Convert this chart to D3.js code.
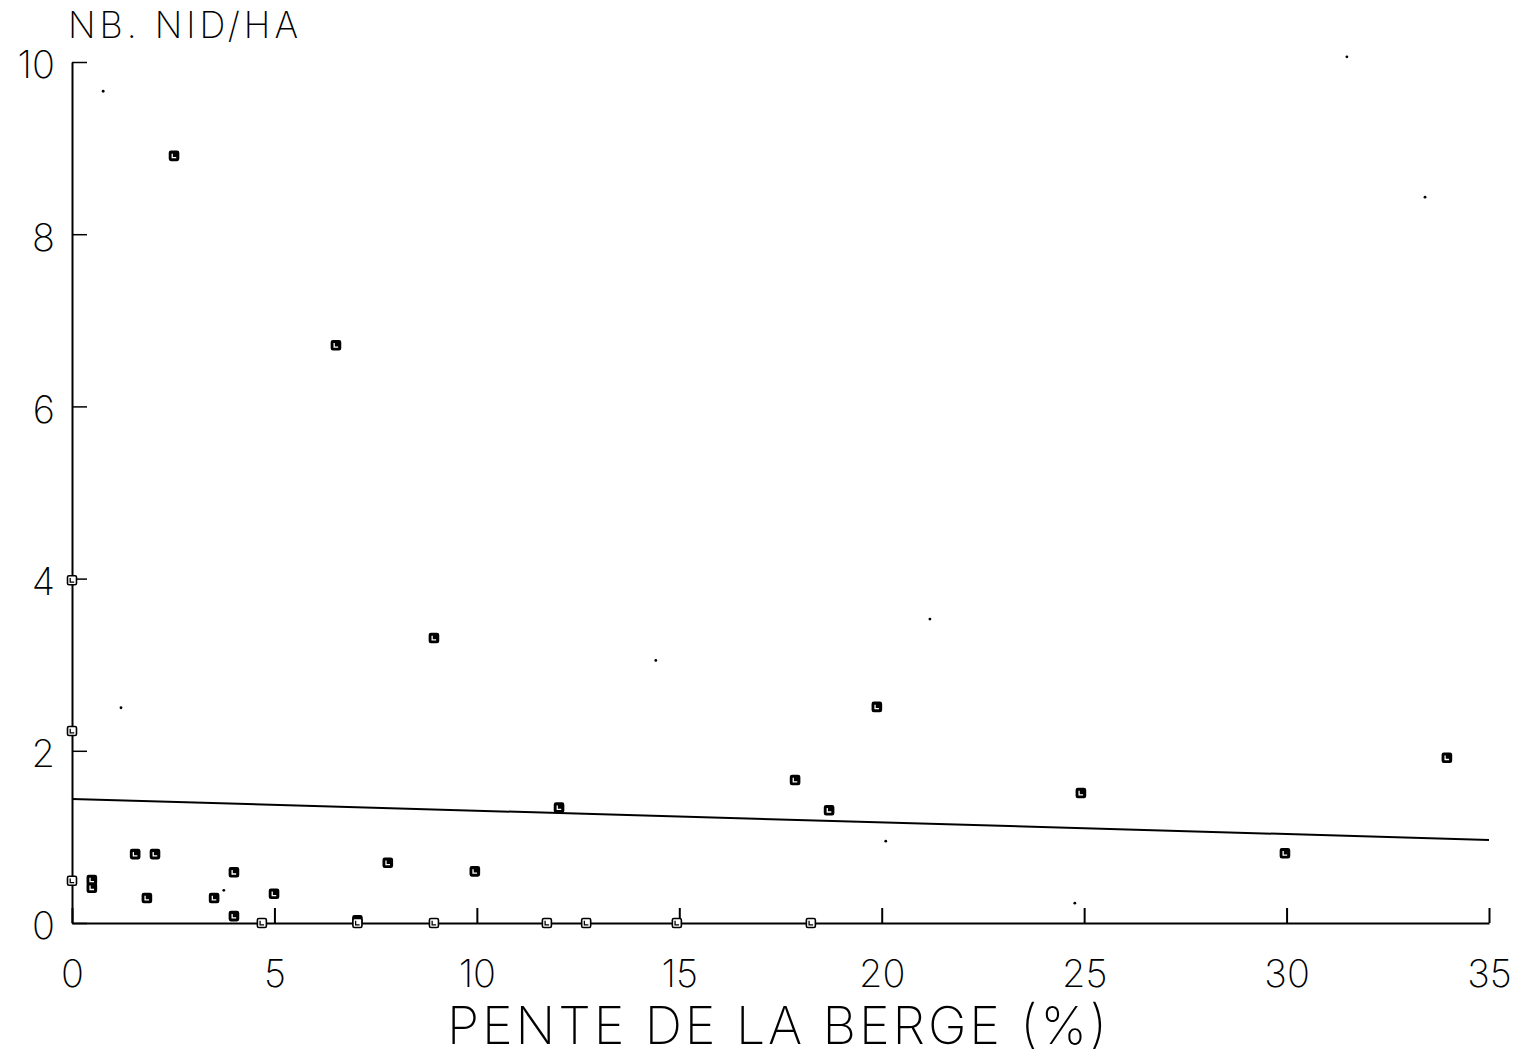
<!DOCTYPE html>
<html>
<head>
<meta charset="utf-8">
<script src="https://cdn.jsdelivr.net/npm/d3@7"></script>
<style>
  html, body { margin: 0; padding: 0; background: #fff; }
  svg { display: block; }
  text { font-family: "Inter", "Roboto", "Liberation Sans", sans-serif; font-weight: 250; fill: #000; }
</style>
</head>
<body>
<svg id="chart" width="1523" height="1056"></svg>
<script>
// ---- data ----
const xTitle = "PENTE DE LA BERGE (%)";
const yTitle = "NB. NID/HA";
const xTicks = [0, 5, 10, 15, 20, 25, 30, 35];
const yTicks = [0, 2, 4, 6, 8, 10];

// slope (%) of each observed bank and nests per hectare
const slopeX = [2.52, 6.52, 8.94, 0, 0, 19.88, 17.86, 18.70, 24.92, 33.96,
                12.03, 29.96, 0, 0.49, 0.49, 1.56, 2.05, 1.85, 3.51, 4.00,
                4.00, 4.69, 4.99, 7.80, 9.95, 7.05, 7.05, 8.94, 11.73, 12.70,
                14.94, 18.25];
const nestY  = [8.91, 6.71, 3.31, 3.98, 2.23, 2.51, 1.66, 1.31, 1.51, 1.92,
                1.34, 0.81, 0.49, 0.50, 0.41, 0.80, 0.80, 0.29, 0.29, 0.59,
                0.08, 0.00, 0.34, 0.70, 0.60, 0.03, 0.00, 0.00, 0.00, 0.00,
                0.00, 0.00];

// fitted regression line end points
const fitX = [0, 35];
const fitY = [1.44, 0.965];

// stray specks visible on the scanned figure
const speckX = [0.77, 31.49, 33.42, 14.42, 21.19, 1.21, 20.10, 24.77, 3.75];
const speckY = [9.66, 10.06, 8.43, 3.05, 3.53, 2.50, 0.95, 0.23, 0.38];

// ---- drawing ----
const svg = d3.select("#chart");
const x = d3.scaleLinear().domain([0, 35]).range([72, 1489]);
const y = d3.scaleLinear().domain([0, 10]).range([923, 62]);

// x axis (ticks pointing up into the plot)
const gx = svg.append("g").attr("transform", `translate(0,${y(0)})`)
  .call(d3.axisBottom(x).tickValues(xTicks).tickSizeInner(-15).tickSizeOuter(0).tickFormat(d3.format("d")));
gx.select(".domain").attr("stroke", "#000").attr("stroke-width", 2);
gx.selectAll(".tick line").attr("stroke", "#000").attr("stroke-width", 2);
gx.selectAll(".tick text").attr("y", 64).attr("dy", null)
  .attr("font-size", 38).attr("font-family", null).style("font-weight", 250);

// y axis (ticks pointing right into the plot)
const gy = svg.append("g").attr("transform", `translate(${x(0)},0)`)
  .call(d3.axisLeft(y).tickValues(yTicks).tickSizeInner(-15).tickSizeOuter(0).tickFormat(d3.format("d")));
gy.select(".domain").attr("stroke", "#000").attr("stroke-width", 2);
gy.selectAll(".tick line").attr("stroke", "#000").attr("stroke-width", 1.5);
gy.selectAll(".tick text").attr("x", -17).attr("dy", "0.42em")
  .attr("font-size", 38).attr("font-family", null).style("font-weight", 250);
svg.selectAll(".tick text").attr("fill", "#000");

// titles
svg.append("text").attr("x", 68).attr("y", 38).attr("font-size", 36)
  .attr("textLength", 230).attr("lengthAdjust", "spacing").text(yTitle);
svg.append("text").attr("x", 447).attr("y", 1044).attr("font-size", 52)
  .attr("textLength", 660).attr("lengthAdjust", "spacing").text(xTitle);

// regression line
const line = d3.line().x(d => x(d[0])).y(d => y(d[1]));
svg.append("path").datum(d3.zip(fitX, fitY)).attr("d", line)
  .attr("fill", "none").attr("stroke", "#000").attr("stroke-width", 2);

// specks
svg.append("g").selectAll("circle").data(d3.zip(speckX, speckY)).join("circle")
  .attr("cx", d => x(d[0])).attr("cy", d => y(d[1])).attr("r", 1.4).attr("fill", "#000");

// markers
const pts = d3.zip(slopeX, nestY);
const hollow = d => (d[0] === 0 || d[1] === 0);
const m = svg.append("g").selectAll("g").data(pts).join("g")
  .attr("transform", d => `translate(${x(d[0])},${y(d[1])})`);
m.append("rect")
  .attr("x", -4.5).attr("y", -4.5).attr("width", 9).attr("height", 9).attr("rx", 1.5)
  .attr("fill", d => hollow(d) ? "#fff" : "#000")
  .attr("stroke", "#000").attr("stroke-width", 1.6);
m.append("path")
  .attr("d", "M-1.8,-2.2V1.8H2.2")
  .attr("fill", "none")
  .attr("stroke", d => hollow(d) ? "#000" : "#fff")
  .attr("stroke-width", 1.3);
</script>
</body>
</html>
